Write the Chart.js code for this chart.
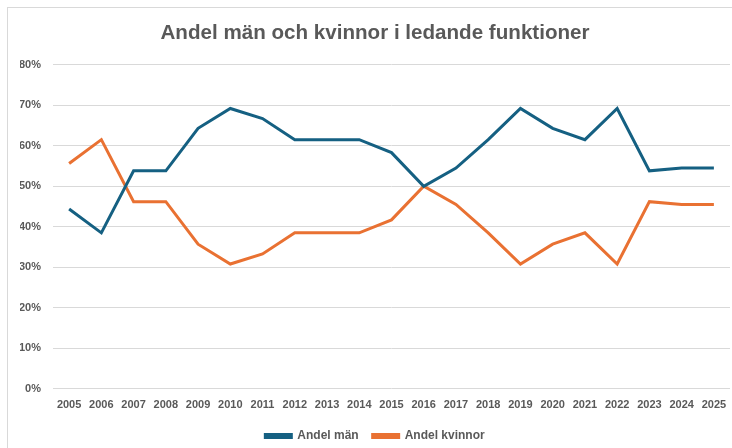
<!DOCTYPE html>
<html>
<head>
<meta charset="utf-8">
<script src="https://cdn.jsdelivr.net/npm/chart.js@4/dist/chart.umd.min.js"></script>
<style>
  html, body { margin: 0; padding: 0; background: #fff; overflow: hidden; }
  #frame { position: absolute; left: 7px; top: 7px; width: 740px; height: 460px; border: 1px solid #d9d9d9; }
  #wrap { position: absolute; left: 0; top: 0; width: 732px; height: 448px; }
</style>
</head>
<body>
<div id="frame"></div>
<div id="wrap"><canvas id="chart"></canvas></div>
<script>
// years on the x axis
const years = ['2005','2006','2007','2008','2009','2010','2011','2012','2013','2014','2015',
               '2016','2017','2018','2019','2020','2021','2022','2023','2024','2025']
// share of men / women (fractions)
const andelMan = [0.444,0.385,0.538,0.538,0.643,0.692,0.667,0.615,0.615,0.615,0.583,
                  0.500,0.545,0.615,0.692,0.643,0.615,0.692,0.538,0.545,0.545]
const andelKvinnor = [0.556,0.615,0.462,0.462,0.357,0.308,0.333,0.385,0.385,0.385,0.417,
                      0.500,0.455,0.385,0.308,0.357,0.385,0.308,0.462,0.455,0.455]
const yTicks = [0,0.1,0.2,0.3,0.4,0.5,0.6,0.7,0.8]

const textGray = '#595959'
const fontFam = '"Liberation Sans", Arial, sans-serif'

// wider gap between legend items without making the legend taller
const legendTrim = {
    id: 'legendTrim',
    beforeLayout(chart) {
        let legend = chart.legend
        if (legend && !legend._trimmed) {
            let origFit = legend.fit
            legend.fit = function() {
                origFit.call(this)
                this.height = this.height - 4
            }
            legend._trimmed = true
        }
    }
}

let canvas = document.getElementById('chart').getContext('2d')
let chart = new Chart(canvas, {
    type: 'line',
    data: {
        labels: years,
        datasets: [
            { label: 'Andel män', data: andelMan, borderColor: '#156082', backgroundColor: '#156082',
              borderWidth: 3, pointRadius: 0, tension: 0 },
            { label: 'Andel kvinnor', data: andelKvinnor, borderColor: '#E97132', backgroundColor: '#E97132',
              borderWidth: 3, pointRadius: 0, tension: 0 }
        ]
    },
    plugins: [legendTrim],
    options: {
        responsive: true,
        maintainAspectRatio: false,
        animation: false,
        // left padding shifts title/legend centre right; y axis width makes up the rest
        layout: { padding: { left: 20, right: 2, top: 14, bottom: 0 } },
        plugins: {
            title: {
                display: true,
                text: 'Andel män och kvinnor i ledande funktioner',
                color: textGray,
                font: { family: fontFam, size: 20.6, weight: 'bold' },
                padding: { top: 7, bottom: 19 }
            },
            legend: {
                position: 'bottom',
                labels: {
                    color: textGray,
                    font: { family: fontFam, size: 12, weight: 'bold' },
                    boxWidth: 26,
                    boxHeight: 3,
                    padding: 14
                }
            },
            tooltip: { enabled: false }
        },
        scales: {
            x: {
                offset: true,
                afterFit: function(scale){ scale.height = scale.height + 2 },
                grid: { display: false },
                border: { display: false },
                ticks: {
                    color: textGray,
                    font: { family: fontFam, size: 11, weight: 'bold' },
                    maxRotation: 0, autoSkip: false, padding: 2
                }
            },
            y: {
                min: 0, max: 0.8,
                afterFit: function(scale){ scale.width = 33 },
                afterBuildTicks: function(scale){ scale.ticks = yTicks.map(v => ({ value: v })) },
                grid: { color: '#d9d9d9', lineWidth: 1, drawTicks: false },
                border: { display: false },
                ticks: {
                    color: textGray,
                    font: { family: fontFam, size: 11, weight: 'bold' },
                    padding: 12,
                    callback: function(v){ return Math.round(v * 100) + '%' }
                }
            }
        }
    }
})
</script>
</body>
</html>
